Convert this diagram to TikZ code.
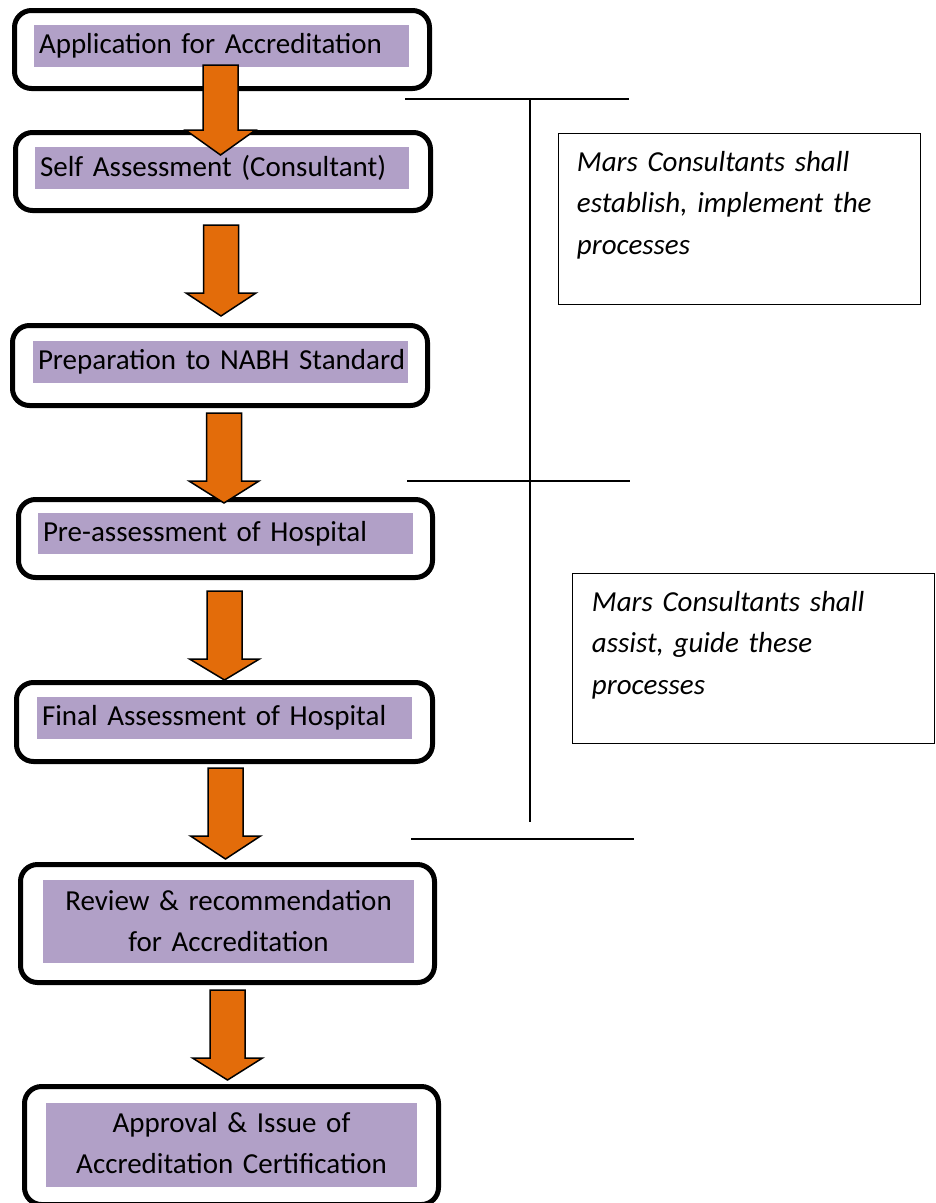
\documentclass[tikz,border=0pt]{standalone}
\usepackage{fontspec}
\setmainfont{Carlito}
\usetikzlibrary{calc, positioning}
\definecolor{stepfill}{HTML}{B1A0C7}
\definecolor{arrowfill}{HTML}{E36C0A}

\tikzset{
    stepbox/.style={draw, line width=5pt, rounded corners=17pt, minimum width=415, inner sep=0pt},
    steplabel/.style={fill=stepfill, inner xsep=5pt, inner ysep=0pt, minimum height=42,
        font=\fontsize{29}{41}\selectfont},
    notebox/.style={draw, line width=1.5pt, minimum width=362, minimum height=171, inner sep=0pt},
    notetext/.style={inner sep=0pt, anchor=north west, align=left, text width=340,
        font=\fontsize{29}{41.5}\selectfont\itshape},
    bigarrow/.style={draw, line width=1.5pt, fill=arrowfill, line join=miter},
    bracket/.style={line width=1.5pt}
}

\begin{document}
\begin{tikzpicture}[x=1pt, y=-1pt]
    \useasboundingbox (0,0) rectangle (936,1203);
    \clip (0,0) rectangle (936,1203);

    % steps
    \node[stepbox, minimum height=78] (b1) at (222,49.5) {};
    \node[stepbox, minimum height=78] (b2) at (223,171.5) {};
    \node[stepbox, minimum height=80] (b3) at (220,365.5) {};
    \node[stepbox, minimum height=78, minimum width=414] (b4) at (225.5,538.5) {};
    \node[stepbox, minimum height=79, minimum width=416] (b5) at (224.5,722) {};
    \node[stepbox, minimum height=118, minimum width=414] (b6) at (227.5,923.5) {};
    \node[stepbox, minimum height=118, minimum width=414] (b7) at (231.5,1145.5) {};

    \node[steplabel, text width=365, align=left] (l1) at (221.5,46) {\mbox{Application for Accreditation}};
    \node[steplabel, text width=364, align=left] (l2) at (222,168) {\mbox{Self Assessment (Consultant)}};
    \node[steplabel, text width=365, align=left] (l3) at (220.5,362) {\mbox{Preparation to NABH Standard}};
    \node[steplabel, text width=365, align=left, minimum height=41] (l4) at (225.5,533.5) {\mbox{Pre-assessment of Hospital}};
    \node[steplabel, text width=365, align=left] (l5) at (224.5,718) {\mbox{Final Assessment of Hospital}};
    \node[steplabel, text width=361, align=center, minimum height=83] (l6) at (228.5,921.5) {Review \& recommendation\\for Accreditation};
    \node[steplabel, text width=361, align=center, minimum height=84] (l7) at (231.5,1145) {Approval \& Issue of\\Accreditation Certification\vphantom{g}};

    % arrows between the steps: centre / top / head / tip
    \foreach \x/\t/\h/\b in {220.5/65/130/155, 221/225/293/316, 224/413/481/503,
                             224.5/591/659/680, 225.5/768/836/859, 227.5/990/1058/1080}
        \draw[bigarrow] (\x-17.5,\t) -- (\x+17.5,\t) -- (\x+17.5,\h) -- (\x+35,\h)
            -- (\x,\b) -- (\x-35,\h) -- (\x-17.5,\h) -- cycle;

    % brackets
    \coordinate (top l) at (405,99);   \coordinate (top r) at (629,99);
    \coordinate (mid l) at (407,481);  \coordinate (mid r) at (630,481);
    \coordinate (bot l) at (411,839);  \coordinate (bot r) at (634,839);
    \coordinate (spine top) at (530,99);
    \coordinate (spine bot) at (530,822);
    \draw[bracket] (top l) -- (top r);
    \draw[bracket] (mid l) -- (mid r);
    \draw[bracket] (bot l) -- (bot r);
    \draw[bracket] (spine top) -- (spine bot);

    % notes
    \node[notebox] (n1) at (739.5,219) {};
    \node[notebox, minimum height=170] (n2) at (753.5,658.5) {};
    \node[notetext] (t1) at ($(n1.north west)+(19,18)$) {Mars Consultants shall\\establish, implement the\\processes};
    \node[notetext] (t2) at ($(n2.north west)+(20,18)$) {Mars Consultants shall\\assist, guide these\\processes};
\end{tikzpicture}
\end{document}
